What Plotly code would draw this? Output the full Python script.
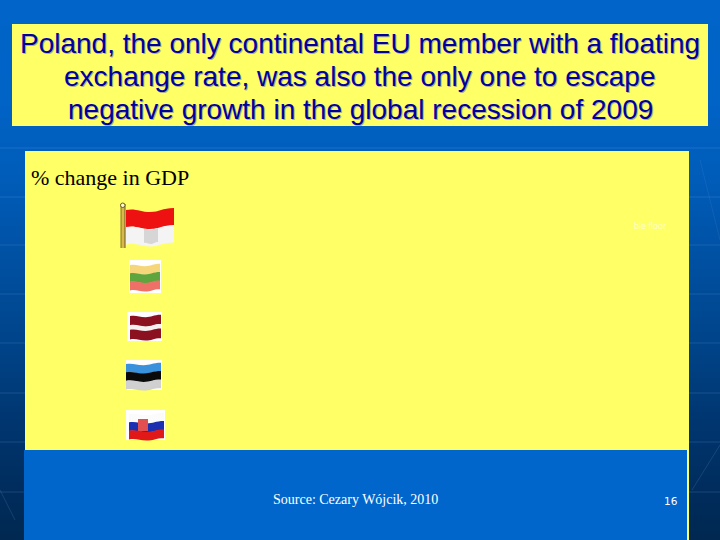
import plotly.graph_objects as go

TITLE_LINES = ["Poland, the only continental EU member with a floating",
               "exchange rate, was also the only one to escape",
               "negative growth in the global recession of 2009"]
SUBTITLE = "% change in GDP"
SOURCE = "Source: Cezary Wójcik, 2010"
PAGE = "16"
FAINT_LABEL = "ble floor"

BG_ROWS = [0, 100, 180, 260, 340, 420, 500, 540]
BG_COLOURS = ["#0064c8", "#0063c6", "#005cb8", "#0050a2", "#00448a", "#003670", "#002b5a", "#002850"]
YELLOW = "#ffff66"
BLUE_PANEL = "#0066cc"

fig = go.Figure()

scale = [[(v - BG_ROWS[0]) / (BG_ROWS[-1] - BG_ROWS[0]), c] for v, c in zip(BG_ROWS, BG_COLOURS)]
fig.add_trace(go.Heatmap(x=[0, 720], y=BG_ROWS, z=[[v, v] for v in BG_ROWS],
                         colorscale=scale, showscale=False, zsmooth="best", hoverinfo="skip"))

shapes = []

def rect(x0, y0, x1, y1, fill):
    shapes.append(dict(type="rect", x0=x0, y0=y0, x1=x1, y1=y1, fillcolor=fill,
                       line=dict(width=0), layer="above"))

def line(x0, y0, x1, y1, col, w=1):
    shapes.append(dict(type="line", x0=x0, y0=y0, x1=x1, y1=y1, line=dict(color=col, width=w), layer="above"))

for y in [148, 197, 245, 294, 343, 393, 442, 492]:
    line(0, y, 720, y, "rgba(120,170,230,0.2)")
line(692, 490, 720, 445, "rgba(120,170,230,0.18)")
line(700, 160, 720, 240, "rgba(120,170,230,0.12)")
line(0, 490, 15, 520, "rgba(120,170,230,0.18)")

rect(12, 24, 708, 126, YELLOW)
rect(25, 151, 689, 540, YELLOW)
rect(24, 450, 687, 540, BLUE_PANEL)

def wave_band(x0, x1, yt, yb, amp, fill):
    w = x1 - x0
    mid = x0 + w * 0.5
    path = (
        f"M {x0} {yt:.1f} "
        f"C {x0 + w * 0.2:.1f} {yt - amp:.1f} {x0 + w * 0.3:.1f} {yt + amp:.1f} {mid:.1f} {yt + amp:.1f} "
        f"C {x0 + w * 0.7:.1f} {yt + amp:.1f} {x0 + w * 0.75:.1f} {yt - amp:.1f} {x1} {yt - amp:.1f} "
        f"L {x1} {yb - amp:.1f} "
        f"C {x0 + w * 0.75:.1f} {yb - amp:.1f} {x0 + w * 0.7:.1f} {yb + amp:.1f} {mid:.1f} {yb + amp:.1f} "
        f"C {x0 + w * 0.3:.1f} {yb + amp:.1f} {x0 + w * 0.2:.1f} {yb - amp:.1f} {x0} {yb:.1f} Z"
    )
    shapes.append(dict(type="path", path=path, fillcolor=fill, line=dict(width=0), layer="above"))

def flag(x0, x1, y0, y1, bands, amp=2):
    h = (y1 - y0) / sum(b[1] for b in bands)
    y = y0
    for col, frac in bands:
        wave_band(x0, x1, y, y + h * frac + 0.4, amp, col)
        y += h * frac

# Flag 1 with pole
rect(121, 204, 125, 248, "#d8b84a")
line(125, 204, 125, 248, "#6b5a20", 1)
line(121, 204, 121, 248, "#8a7428", 1)
shapes.append(dict(type="circle", x0=120.5, y0=203, x1=125, y1=207.5, fillcolor="#ffffd0",
                   line=dict(color="#6b5a20", width=1), layer="above"))
flag(126, 174, 210, 244, [("#ee1111", 1), ("#f4f4f4", 1)], amp=2)
wave_band(144, 158, 229, 243, 1, "#d6d6d6")

# Flag 2
rect(129, 260, 161, 293, "#ffffff")
flag(130, 160, 265, 290, [("#f6d67a", 1), ("#5ea53e", 1), ("#ee7066", 1)], amp=1.2)
# Flag 3
rect(127, 312, 162, 341, "#ffffff")
flag(130, 161, 316, 339, [("#8b1020", 2), ("#f5f0f0", 1), ("#8b1020", 2)], amp=1.2)
# Flag 4
rect(126, 360, 162, 390, "#ffffff")
flag(126, 161, 364, 389, [("#3a92dc", 1), ("#0a0a0a", 1), ("#d0d0d0", 1)], amp=1.2)
# Flag 5
rect(126, 410, 165, 440, "#ffffff")
flag(129, 164, 414, 439, [("#fbfbfb", 1), ("#1c2fb0", 1), ("#e01818", 1)], amp=1.2)
rect(138, 419, 148, 431, "#e05050")

def text(x, y, s, size, colour, family, anchor="left", opacity=1):
    fig.add_annotation(x=x, y=y, text=s, showarrow=False, xanchor=anchor, yanchor="middle",
                       font=dict(size=size, color=colour, family=family), opacity=opacity)

for (yc, s) in zip([43, 76, 109], TITLE_LINES):
    text(361.2, yc + 1.2, s, 28, "#b0b090", "Liberation Sans", "center")
    text(360, yc, s, 28, "#0000a0", "Liberation Sans", "center")

text(29, 177, SUBTITLE, 22, "#000000", "Liberation Serif")
text(271, 499, SOURCE, 14, "#ffffff", "Liberation Serif")
text(662, 501, PAGE, 10.5, "#ffffff", "DejaVu Sans")
text(632, 226, FAINT_LABEL, 9, "#ffffff", "Liberation Sans", opacity=0.6)

fig.update_layout(width=720, height=540, margin=dict(l=0, r=0, t=0, b=0),
                  paper_bgcolor="#0064c8", plot_bgcolor="#0064c8", shapes=shapes, showlegend=False,
                  xaxis=dict(range=[0, 720], visible=False, fixedrange=True),
                  yaxis=dict(range=[540, 0], visible=False, fixedrange=True))
fig.write_html("out.html", config=dict(displayModeBar=False),
               post_script="document.body.style.margin='0';document.documentElement.style.overflow='hidden';")
